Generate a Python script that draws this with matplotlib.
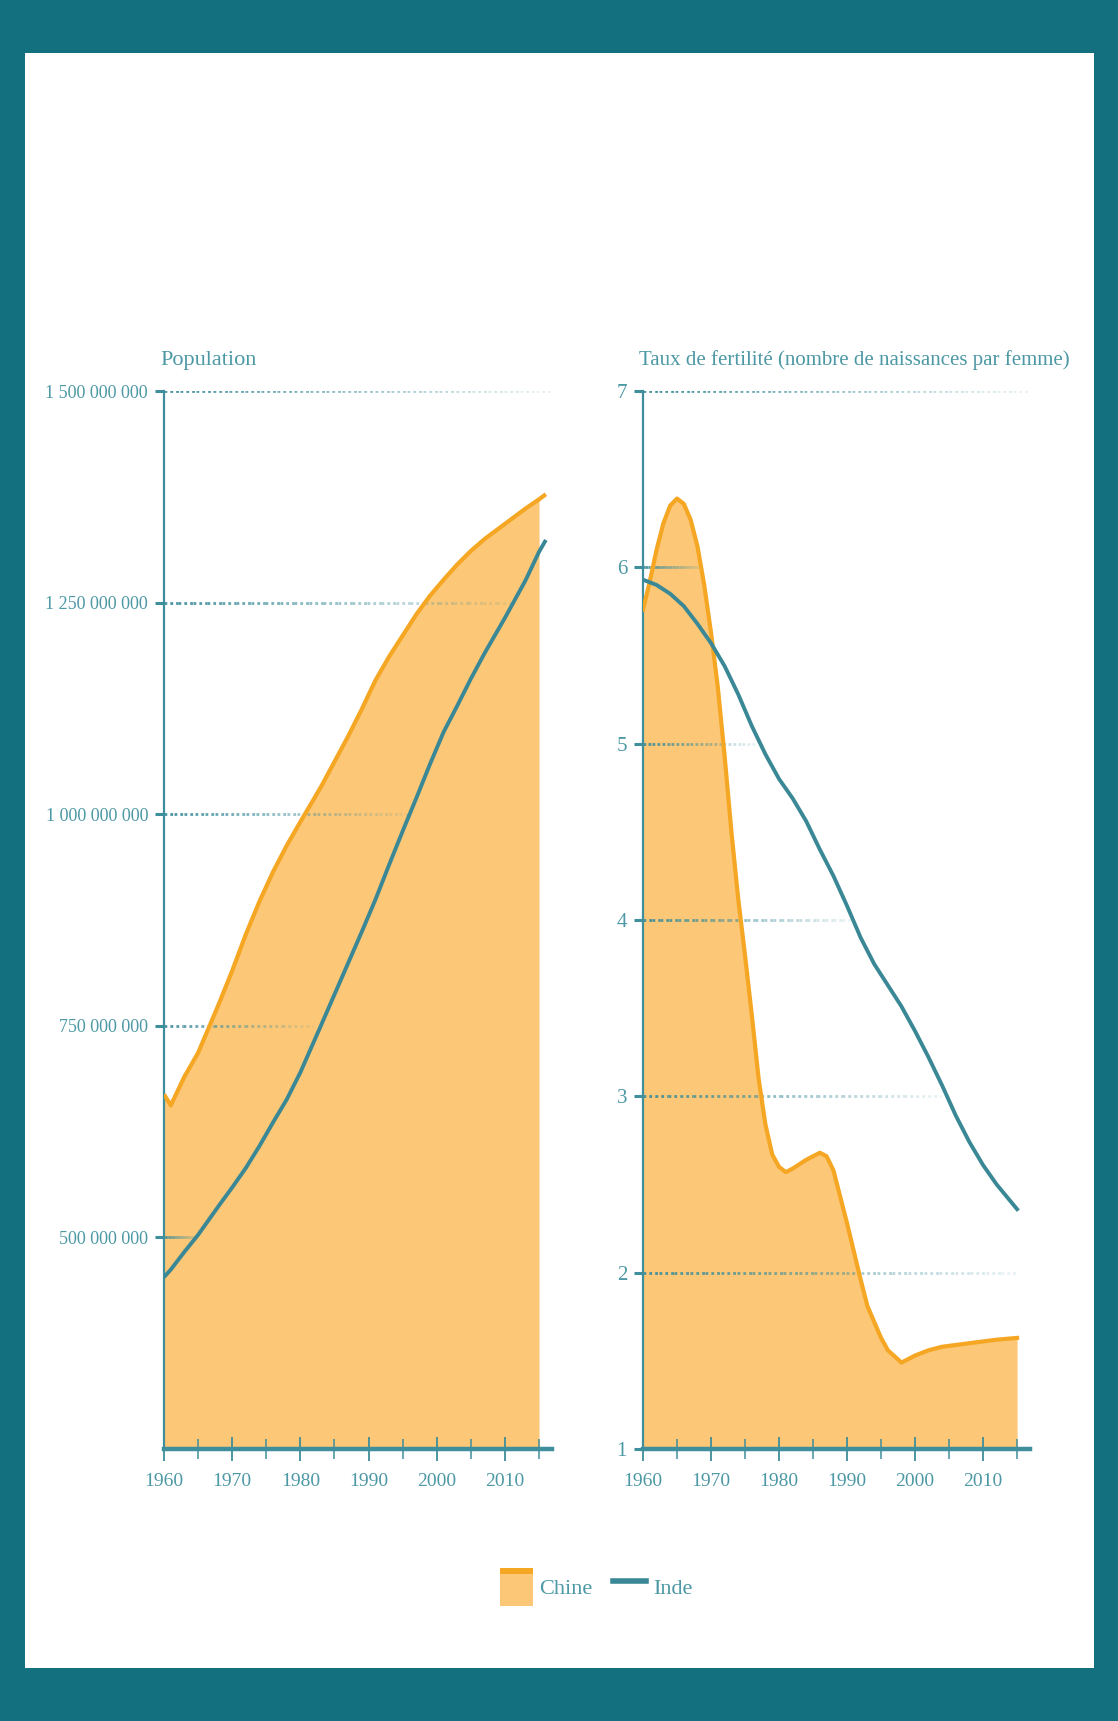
import matplotlib
matplotlib.use("Agg")
import matplotlib.pyplot as plt
import numpy as np
from matplotlib.patches import Rectangle, Patch
from matplotlib.lines import Line2D
from matplotlib.collections import LineCollection
from matplotlib.legend_handler import HandlerBase
from matplotlib.ticker import FuncFormatter

# ---- data ----
pop_years = [1960, 1961, 1963, 1965, 1968, 1970, 1972, 1974, 1976, 1978, 1980,
             1983, 1985, 1987, 1989, 1991, 1993, 1995, 1997, 1999, 2001, 2003,
             2005, 2007, 2010, 2013, 2015, 2016]
china_pop = [669, 656, 690, 718, 775, 815, 858, 897, 932, 963, 991,
             1032, 1062, 1092, 1124, 1158, 1186, 1211, 1236, 1258, 1277, 1295,
             1311, 1325, 1343, 1361, 1372, 1378]  # millions
india_pop = [453, 462, 483, 503, 537, 559, 582, 608, 636, 663, 695,
             750, 787, 824, 861, 899, 940, 980, 1019, 1059, 1097, 1128,
             1160, 1190, 1232, 1276, 1310, 1324]  # millions

china_fert_years = [1960, 1961, 1962, 1963, 1964, 1965, 1966, 1967, 1968, 1969,
                    1970, 1971, 1972, 1973, 1974, 1975, 1976, 1977, 1978, 1979,
                    1980, 1981, 1982, 1984, 1986, 1987, 1988, 1990, 1992, 1993,
                    1995, 1996, 1998, 2000, 2002, 2004, 2006, 2008, 2010, 2012, 2015]
china_fert = [5.76, 5.92, 6.10, 6.25, 6.35, 6.39, 6.36, 6.27, 6.12, 5.90,
              5.63, 5.32, 4.93, 4.50, 4.12, 3.80, 3.46, 3.10, 2.84, 2.67,
              2.60, 2.57, 2.59, 2.64, 2.68, 2.66, 2.58, 2.28, 1.96, 1.81,
              1.63, 1.56, 1.49, 1.53, 1.56, 1.58, 1.59, 1.60, 1.61, 1.62, 1.63]

india_fert_years = [1960, 1962, 1964, 1966, 1968, 1970, 1972, 1974, 1976, 1978,
                    1980, 1982, 1984, 1986, 1988, 1990, 1992, 1994, 1996, 1998,
                    2000, 2002, 2004, 2006, 2008, 2010, 2012, 2015]
india_fert = [5.93, 5.90, 5.85, 5.78, 5.68, 5.57, 5.44, 5.28, 5.10, 4.94,
              4.80, 4.69, 4.56, 4.40, 4.25, 4.08, 3.90, 3.75, 3.63, 3.51,
              3.37, 3.22, 3.06, 2.89, 2.74, 2.61, 2.50, 2.36]

pop_ticks = [500e6, 750e6, 1000e6, 1250e6, 1500e6]
fert_ticks = [1, 2, 3, 4, 5, 6, 7]
year_ticks = [1960, 1970, 1980, 1990, 2000, 2010]

# how far each dotted grid line runs (in years)
pop_grid_end = [1964.8, 1981.8, 1996.0, 2011.0, 2017.0]
fert_grid_end = [None, 2015.0, 2003.8, 1990.5, 1976.7, 1968.4, 2016.8]

# ---- style ----
BORDER = "#13707F"
AXIS = "#3E8E9B"
TEXT = "#4C98A4"
ORANGE = "#F5A623"
FILL = "#FCC777"
INDIA = "#3A8896"
FONT = ["Liberation Serif", "DejaVu Serif"]

plt.rcParams["font.family"] = FONT

W, H = 1118, 1721
fig = plt.figure(figsize=(W / 100, H / 100), dpi=100)
fig.patch.set_facecolor(BORDER)
fig.add_artist(Rectangle((25 / W, 1 - 1668 / H), (1094 - 25) / W, (1668 - 53) / H,
                         transform=fig.transFigure, facecolor="white",
                         edgecolor="none", zorder=0))

ax1 = fig.add_axes([164 / W, 1 - 1449 / H, 388 / W, (1449 - 391) / H])
ax2 = fig.add_axes([643 / W, 1 - 1449 / H, 387 / W, (1449 - 391) / H])


def faded_grid(ax, level, x0, x1):
    xs = np.linspace(x0, x1, 25)
    segs = [[(xs[i], level), (xs[i + 1], level)] for i in range(len(xs) - 1)]
    alphas = np.linspace(0.95, 0.12, len(segs))
    cols = [(0x3E / 255, 0x8E / 255, 0x9B / 255, a) for a in alphas]
    lc = LineCollection(segs, colors=cols, linewidths=2.0,
                        linestyles=[(0, (1, 1.1))], zorder=2)
    ax.add_collection(lc)


def style_axes(ax, ymin, ymax):
    ax.set_facecolor("none")
    ax.set_xlim(1960, 2016.9)
    ax.set_ylim(ymin, ymax)
    for s in ("top", "right"):
        ax.spines[s].set_visible(False)
    ax.spines["left"].set_color(AXIS)
    ax.spines["left"].set_linewidth(1.6)
    ax.spines["bottom"].set_color(AXIS)
    ax.spines["bottom"].set_linewidth(3.2)
    ax.spines["bottom"].set_zorder(5)
    ax.set_xticks(year_ticks)
    ax.set_xticks([y + 5 for y in year_ticks], minor=True)
    ax.tick_params(axis="x", which="major", direction="inout", length=17,
                   width=1.3, color=AXIS, labelcolor=TEXT, labelsize=14, pad=9)
    ax.tick_params(axis="x", which="minor", direction="inout", length=14,
                   width=1.1, color=AXIS)
    ax.tick_params(axis="y", which="major", direction="out", length=6.5,
                   width=2.2, color=AXIS, labelcolor=TEXT, labelsize=13, pad=5)


# ---- population ----
style_axes(ax1, 250e6, 1500e6)
pop_y = np.array(pop_years)
china_p = np.array(china_pop) * 1e6
india_p = np.array(india_pop) * 1e6
ax1.fill_between(pop_y, china_p, 250e6, where=pop_y <= 2015, color=FILL,
                 linewidth=0, zorder=1)
for lvl, end in zip(pop_ticks, pop_grid_end):
    faded_grid(ax1, lvl, 1960, end)
ax1.plot(pop_y, china_p, color=ORANGE, lw=3, zorder=3, solid_capstyle="butt")
ax1.plot(pop_y, india_p, color=INDIA, lw=2.8, zorder=4, solid_capstyle="butt")
ax1.set_yticks(pop_ticks)
ax1.yaxis.set_major_formatter(FuncFormatter(lambda v, p: f"{v:,.0f}".replace(",", " ")))
ax1.text(-0.01, 1.02, "Population", transform=ax1.transAxes, fontsize=16,
         color=TEXT, ha="left", va="bottom")

# ---- fertility ----
style_axes(ax2, 1, 7)
cf_y = np.array(china_fert_years)
ax2.fill_between(cf_y, china_fert, 1, color=FILL, linewidth=0, zorder=1)
for lvl, end in zip(fert_ticks, fert_grid_end):
    if end is not None:
        faded_grid(ax2, lvl, 1960, end)
ax2.plot(cf_y, china_fert, color=ORANGE, lw=3, zorder=3)
ax2.plot(india_fert_years, india_fert, color=INDIA, lw=2.8, zorder=4)
ax2.set_yticks(fert_ticks)
ax2.tick_params(axis="y", labelsize=15)
ax2.text(-0.01, 1.02, "Taux de fertilité (nombre de naissances par femme)",
         transform=ax2.transAxes, fontsize=15, color=TEXT, ha="left", va="bottom")


# ---- legend ----
class HandlerSwatch(HandlerBase):
    def create_artists(self, legend, orig_handle, xdescent, ydescent, width,
                       height, fontsize, trans):
        body = Rectangle((-xdescent, -ydescent), width, height, facecolor=FILL,
                         edgecolor="none", transform=trans)
        strip = Rectangle((-xdescent, -ydescent + height * 0.84), width,
                          height * 0.16, facecolor=ORANGE, edgecolor="none",
                          transform=trans)
        return [body, strip]


h_china = Patch(facecolor=FILL)
h_india = Line2D([], [], color=INDIA, lw=4)
leg = fig.legend([h_china, h_india], ["Chine", "Inde"], loc="center",
                 bbox_to_anchor=(0.533, 1 - 1587 / H), ncol=2, frameon=False,
                 fontsize=16, handlelength=1.5, handleheight=2.3,
                 handletextpad=0.3, columnspacing=0.9,
                 handler_map={Patch: HandlerSwatch()})
for t in leg.get_texts():
    t.set_color(TEXT)

fig.savefig("out.png", dpi=100, facecolor=fig.get_facecolor())
